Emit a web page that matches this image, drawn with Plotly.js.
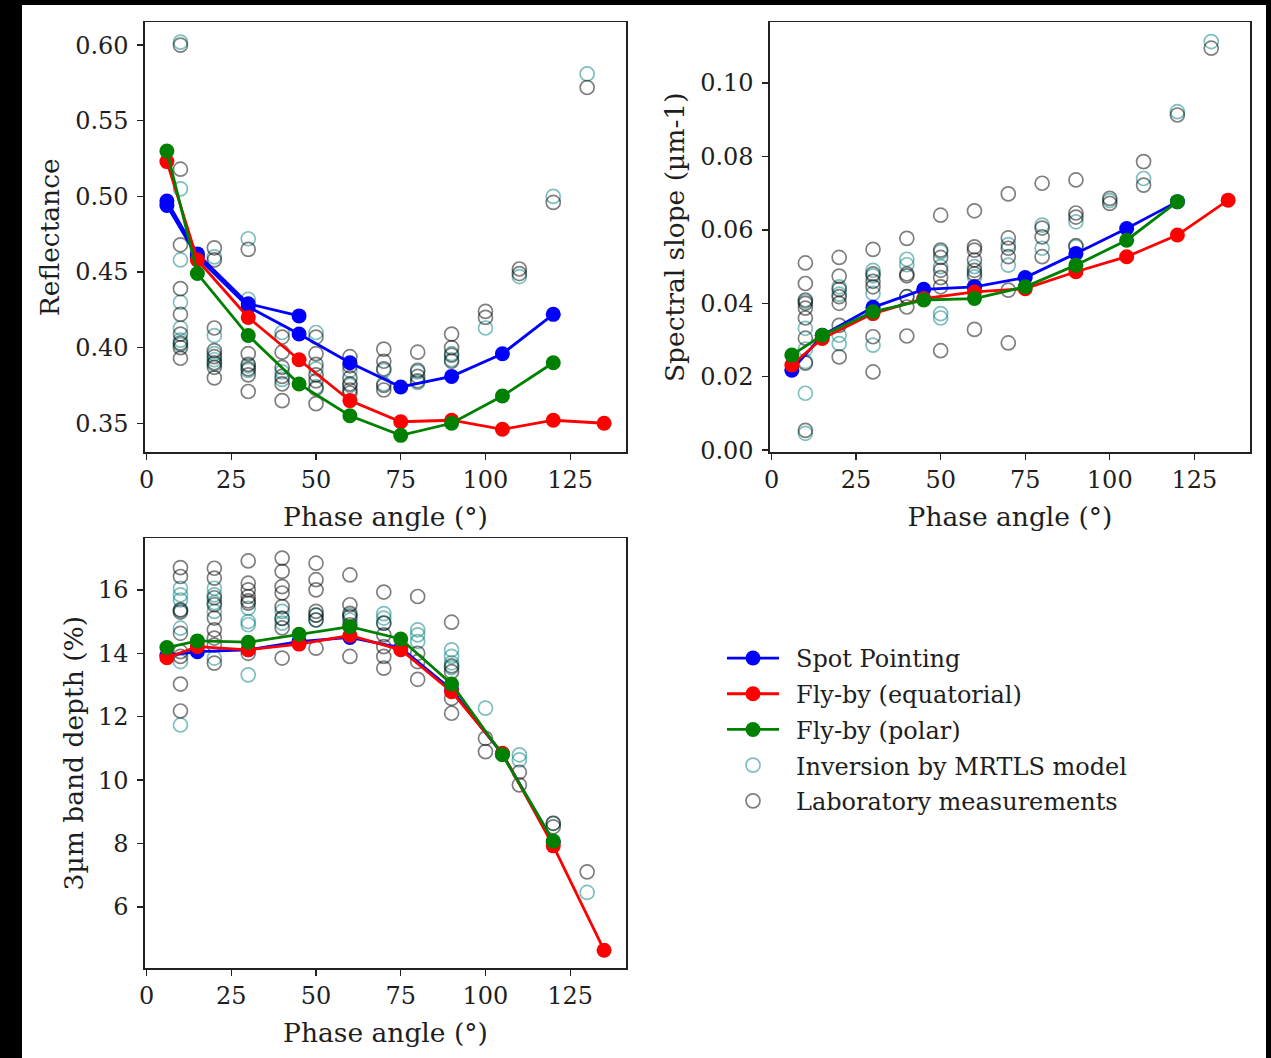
<!DOCTYPE html>
<html>
<head>
<meta charset="utf-8">
<script src="https://cdn.plot.ly/plotly-3.0.1.min.js"></script>
<style>
  html, body { margin: 0; padding: 0; background: #000; width: 1271px; height: 1058px; overflow: hidden; }
  #plot { position: absolute; left: 22px; top: 5px; width: 1244px; height: 1053px; background: #fff; }
</style>
</head>
<body>
<div id="plot"></div>
<script>
// ---------- Data ----------
// Phase angles of the observation scenarios
const phaseLine = [6, 15, 30, 45, 60, 75, 90, 105, 120];
const phaseLineEq = [6, 15, 30, 45, 60, 75, 90, 105, 120, 135];
const phaseSpotA = [6, 15, 30, 45];

// Reflectance
const refSpotA = [0.497, 0.462, 0.429, 0.421];
const refSpot = [0.494, 0.460, 0.427, 0.409, 0.390, 0.374, 0.381, 0.396, 0.422];
const refEq = [0.523, 0.458, 0.420, 0.392, 0.365, 0.351, 0.352, 0.346, 0.352, 0.350];
const refPolar = [0.530, 0.449, 0.408, 0.376, 0.355, 0.342, 0.350, 0.368, 0.390];

const refInvX = [10,10,10,10,10,10,10, 20,20,20,20,20, 30,30,30,30, 40,40,40, 50,50,50, 60,60, 70,70, 80,80, 90,90, 100, 110, 120, 130];
const refInvY = [0.602,0.505,0.458,0.430,0.413,0.405,0.402, 0.460,0.408,0.396,0.392,0.389, 0.472,0.432,0.388,0.385, 0.410,0.384,0.379, 0.410,0.386,0.374, 0.385,0.375, 0.385,0.376, 0.384,0.377, 0.396,0.392, 0.413, 0.447, 0.500, 0.581];
const refLabX = [10,10,10,10,10,10,10,10,10, 20,20,20,20,20,20,20,20, 30,30,30,30,30,30, 40,40,40,40,40,40, 50,50,50,50,50,50,50, 60,60,60,60,60,60, 70,70,70,70,70, 80,80,80,80, 90,90,90,90, 100,100, 110,110, 120, 130];
const refLabY = [0.600,0.518,0.468,0.439,0.422,0.409,0.403,0.400,0.393, 0.466,0.458,0.413,0.398,0.394,0.390,0.387,0.380, 0.465,0.396,0.389,0.386,0.382,0.371, 0.407,0.397,0.387,0.381,0.376,0.365, 0.407,0.396,0.389,0.382,0.378,0.373,0.363, 0.394,0.388,0.380,0.376,0.372,0.370, 0.399,0.391,0.386,0.375,0.372, 0.397,0.385,0.381,0.378, 0.409,0.400,0.395,0.391, 0.424,0.420, 0.452,0.449, 0.496, 0.572];

// Spectral slope
const slopeSpot = [0.0218, 0.0313, 0.0389, 0.0438, 0.0445, 0.0470, 0.0536, 0.0604, 0.0677];
const slopeEq = [0.0232, 0.0304, 0.0372, 0.0413, 0.0431, 0.0440, 0.0486, 0.0527, 0.0586, 0.0681];
const slopePolar = [0.0259, 0.0313, 0.0377, 0.0409, 0.0413, 0.0445, 0.0504, 0.0572, 0.0677];

const slopeInvX = [10,10,10,10,10,10, 20,20,20,20, 30,30,30,30,30, 40,40,40, 50,50,50,50, 60,60, 70,70, 80,80, 90,90, 100, 110, 120, 130];
const slopeInvY = [0.0405,0.0332,0.0275,0.0241,0.0155,0.0046, 0.0445,0.0425,0.0313,0.0290, 0.0490,0.0475,0.0427,0.0381,0.0286, 0.0520,0.0505,0.0418, 0.0540,0.0500,0.0372,0.0360, 0.0472,0.0500, 0.0560,0.0504, 0.0613,0.0550, 0.0622,0.0554, 0.0680, 0.0740, 0.0922, 0.1113];
const slopeLabX = [10,10,10,10,10,10,10,10,10, 20,20,20,20,20,20,20, 30,30,30,30,30,30, 40,40,40,40,40,40, 50,50,50,50,50,50,50, 60,60,60,60,60,60,60,60, 70,70,70,70,70,70, 80,80,80,80, 90,90,90,90, 100,100, 110,110, 120, 130];
const slopeLabY = [0.0510,0.0454,0.0409,0.0400,0.0387,0.0360,0.0305,0.0237,0.0054, 0.0525,0.0474,0.0438,0.0418,0.0400,0.0340,0.0254, 0.0547,0.0480,0.0460,0.0445,0.0309,0.0213, 0.0577,0.0480,0.0475,0.0418,0.0390,0.0311, 0.0640,0.0545,0.0525,0.0490,0.0470,0.0445,0.0271, 0.0652,0.0554,0.0545,0.0518,0.0490,0.0480,0.0445,0.0329, 0.0698,0.0578,0.0550,0.0527,0.0436,0.0292, 0.0727,0.0605,0.0581,0.0527, 0.0736,0.0646,0.0635,0.0557, 0.0686,0.0672, 0.0786,0.0722, 0.0913, 0.1095];

// 3 µm band depth
const bandSpot = [13.93, 14.05, 14.11, 14.37, 14.50, 14.17, 12.85, 10.82, 8.05];
const bandEq = [13.86, 14.21, 14.11, 14.29, 14.56, 14.11, 12.79, 10.85, 7.93, 4.64];
const bandPolar = [14.18, 14.39, 14.35, 14.60, 14.84, 14.45, 13.03, 10.80, 8.08];

const bandInvX = [10,10,10,10,10,10,10, 20,20,20,20,20, 30,30,30,30, 40,40,40, 50,50, 60,60, 70,70,70, 80,80,80, 90,90,90,90, 100, 110,110, 120, 130];
const bandInvY = [16.05,15.84,15.68,15.35,14.79,13.74,11.74, 16.05,15.84,15.60,15.32,13.85, 15.42,15.00,14.90,13.32, 15.32,15.10,14.95, 15.20,15.05, 15.20,15.05, 15.25,15.11,14.95, 14.74,14.58,14.37, 14.11,13.90,13.70,13.55, 12.27, 10.80,10.64, 8.64, 6.46];
const bandLabX = [10,10,10,10,10,10,10,10,10, 20,20,20,20,20,20,20,20,20, 30,30,30,30,30,30,30, 40,40,40,40,40,40,40,40, 50,50,50,50,50,50,50, 60,60,60,60,60,60, 70,70,70,70,70,70, 80,80,80,80, 90,90,90,90,90, 100,100, 110,110, 120,120, 130];
const bandLabY = [16.70,16.42,15.37,15.30,14.63,14.05,13.90,13.03,12.18, 16.68,16.37,15.75,15.53,15.11,14.74,14.48,14.26,13.69, 16.91,16.21,16.00,15.79,15.65,15.58,14.00, 17.00,16.58,16.10,15.90,15.47,15.10,14.80,13.85, 16.84,16.32,16.00,15.32,15.20,15.05,14.16, 16.47,15.53,15.26,15.15,14.90,13.90, 15.93,14.95,14.58,14.21,13.90,13.53, 15.79,14.00,13.74,13.18, 14.98,13.60,13.42,12.58,12.11, 11.32,10.90, 10.25,9.85, 8.64,8.53, 7.11];

const legendNames = ['Spot Pointing', 'Fly-by (equatorial)', 'Fly-by (polar)', 'Inversion by MRTLS model', 'Laboratory measurements'];

// ---------- Styling ----------
const FONT = 'DejaVu Serif';
const TXT = '#1e1e1e';
const cBlue = '#0000ff', cRed = '#ff0000', cGreen = '#008000';
const cInv = 'rgba(0,128,128,0.5)', cLab = 'rgba(0,0,0,0.5)';
const PAD = '\u2002';

function openTrace(x, y, xa, ya, color, idx, show) {
  return { x: x, y: y, xaxis: xa, yaxis: ya, type: 'scatter', mode: 'markers', name: PAD + legendNames[idx],
    showlegend: show, legendrank: idx + 1, legendgroup: 'g' + idx,
    marker: { symbol: 'circle-open', size: 14, color: color, line: { width: 1.7, color: color } },
    hoverinfo: 'x+y' };
}
function lineTrace(x, y, xa, ya, color, idx, show) {
  return { x: x, y: y, xaxis: xa, yaxis: ya, type: 'scatter', mode: 'lines+markers', name: PAD + legendNames[idx],
    showlegend: show, legendrank: idx + 1, legendgroup: 'g' + idx,
    line: { color: color, width: 2.8 },
    marker: { symbol: 'circle', size: 15, color: color } };
}

const traces = [
  openTrace(refInvX, refInvY, 'x', 'y', cInv, 3, false),
  openTrace(refLabX, refLabY, 'x', 'y', cLab, 4, false),
  lineTrace(phaseSpotA, refSpotA, 'x', 'y', cBlue, 0, false),
  lineTrace(phaseLine, refSpot, 'x', 'y', cBlue, 0, false),
  lineTrace(phaseLineEq, refEq, 'x', 'y', cRed, 1, false),
  lineTrace(phaseLine, refPolar, 'x', 'y', cGreen, 2, false),

  openTrace(slopeInvX, slopeInvY, 'x2', 'y2', cInv, 3, false),
  openTrace(slopeLabX, slopeLabY, 'x2', 'y2', cLab, 4, false),
  lineTrace(phaseLine, slopeSpot, 'x2', 'y2', cBlue, 0, false),
  lineTrace(phaseLineEq, slopeEq, 'x2', 'y2', cRed, 1, false),
  lineTrace(phaseLine, slopePolar, 'x2', 'y2', cGreen, 2, false),

  openTrace(bandInvX, bandInvY, 'x3', 'y3', cInv, 3, true),
  openTrace(bandLabX, bandLabY, 'x3', 'y3', cLab, 4, true),
  lineTrace(phaseLine, bandSpot, 'x3', 'y3', cBlue, 0, true),
  lineTrace(phaseLineEq, bandEq, 'x3', 'y3', cRed, 1, true),
  lineTrace(phaseLine, bandPolar, 'x3', 'y3', cGreen, 2, true)
];

function axisBase(extra) {
  return Object.assign({
    showline: true, mirror: true, linecolor: '#222', linewidth: 1.6,
    ticks: 'outside', ticklen: 6, tickwidth: 1.4, tickcolor: '#222',
    showgrid: false, zeroline: false,
    tickfont: { family: FONT, size: 24, color: TXT },
    fixedrange: true
  }, extra);
}
const TITLE_SIZE = 26.5;
const xTicks = [0, 25, 50, 75, 100, 125];
const xRange = [-0.45, 141.45];
const xTitle = { text: 'Phase angle (°)', font: { family: FONT, size: TITLE_SIZE, color: TXT }, standoff: 14 };
function yTitle(t, s) { return { text: t, font: { family: FONT, size: TITLE_SIZE, color: TXT }, standoff: s }; }

const dx1 = [0.0989, 0.4855], dx2 = [0.6013, 0.9871];
const dyTop = [0.5755, 0.9834], dyBot = [0.0855, 0.4934];

const layout = {
  width: 1244, height: 1053,
  margin: { l: 0, r: 0, t: 0, b: 0 },
  paper_bgcolor: '#fff', plot_bgcolor: '#fff',
  showlegend: true,
  font: { family: FONT, color: TXT },
  xaxis: axisBase({ domain: dx1, anchor: 'y', range: xRange, tickvals: xTicks, title: xTitle }),
  yaxis: axisBase({ domain: dyTop, anchor: 'x', range: [0.331, 0.615], tickvals: [0.35, 0.40, 0.45, 0.50, 0.55, 0.60], tickformat: '.2f',
    ticklabelstandoff: 4, title: yTitle('Reflectance', 8) }),
  xaxis2: axisBase({ domain: dx2, anchor: 'y2', range: xRange, tickvals: xTicks, title: xTitle }),
  yaxis2: axisBase({ domain: dyTop, anchor: 'x2', range: [-0.0005, 0.1165], tickvals: [0, 0.02, 0.04, 0.06, 0.08, 0.10], tickformat: '.2f',
    ticklabelstandoff: 4, title: yTitle('Spectral slope (µm-1)', 8) }),
  xaxis3: axisBase({ domain: dx1, anchor: 'y3', range: xRange, tickvals: xTicks, title: xTitle }),
  yaxis3: axisBase({ domain: dyBot, anchor: 'x3', range: [4.08, 17.62], tickvals: [6, 8, 10, 12, 14, 16],
    ticklabelstandoff: 4, title: yTitle('3µm band depth (%)', 7) }),
  legend: {
    x: 0.5627, y: 0.4008, xanchor: 'left', yanchor: 'top',
    bgcolor: 'rgba(255,255,255,0)', borderwidth: 0,
    font: { family: FONT, size: 24, color: TXT },
    traceorder: 'grouped', tracegroupgap: 1.5, itemwidth: 52
  }
};

Plotly.newPlot('plot', traces, layout, { displayModeBar: false, staticPlot: true });
</script>
</body>
</html>
